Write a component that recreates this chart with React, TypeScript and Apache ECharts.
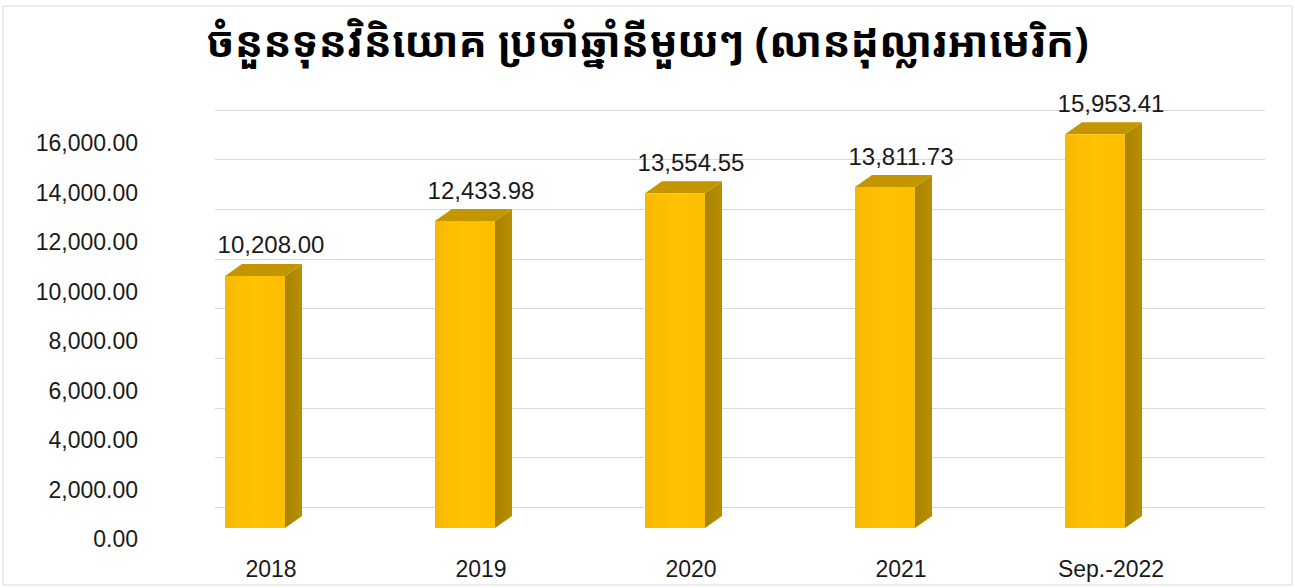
import React, { useEffect, useRef } from "react";
import * as echarts from "echarts";

const TITLE = "ចំនួនទុនវិនិយោគ ប្រចាំឆ្នាំនីមួយៗ (លានដុល្លារអាមេរិក)";
const categories = ["2018", "2019", "2020", "2021", "Sep.-2022"];
const values = [10208.0, 12433.98, 13554.55, 13811.73, 15953.41];
const yMin = 0;
const yMax = 16000;
const yStep = 2000;

const fmt = (v: number) =>
  v.toLocaleString("en-US", { minimumFractionDigits: 2, maximumFractionDigits: 2 });

const FONT = "'Liberation Sans', Arial, sans-serif";

export default function App() {
  const ref = useRef<HTMLDivElement>(null);
  useEffect(() => {
    if (!ref.current) return;
    const chart = echarts.init(ref.current, null, { renderer: "svg" });
    const W = 60;
    const DX = 17;
    const DY = -12;
    const option: any = {
      animation: false,
      backgroundColor: "#ffffff",
      title: {
        text: TITLE,
        left: "center",
        top: 14,
        textStyle: {
          fontSize: 42,
          fontWeight: "bold",
          color: "#000",
          fontFamily: "'Khmer OS Muol Light', 'Noto Sans Khmer', 'Noto Serif Khmer', sans-serif",
        },
      },
      graphic: [
        {
          type: "rect",
          shape: { x: 3, y: 6, width: 1289, height: 579 },
          style: { fill: "none", stroke: "#d9d9d9", lineWidth: 1 },
          silent: true,
          z: -1,
        },
      ],
      grid: [
        { left: 215, right: 30, top: 110, height: 397 },
        { left: 146, width: 10, top: 143, height: 396 },
        { left: 150, right: 95, top: 133, height: 395 },
      ],
      xAxis: [
        { gridIndex: 0, type: "category", data: categories, show: false },
        { gridIndex: 1, type: "category", data: categories, show: false },
        {
          gridIndex: 2,
          type: "category",
          data: categories,
          axisLine: { show: false },
          axisTick: { show: false },
          axisLabel: {
            margin: 29,
            fontSize: 23,
            color: "#1a1a1a",
            fontFamily: FONT,
            padding: [0, 0, 0, 32],
          },
        },
      ],
      yAxis: [
        {
          gridIndex: 0,
          type: "value",
          min: yMin,
          max: yMax,
          interval: yStep,
          axisLabel: { show: false },
          axisLine: { show: false },
          axisTick: { show: false },
          splitLine: { lineStyle: { color: "#d9d9d9", width: 1 } },
        },
        {
          gridIndex: 1,
          type: "value",
          min: yMin,
          max: yMax,
          interval: yStep,
          axisLine: { show: false },
          axisTick: { show: false },
          splitLine: { show: false },
          axisLabel: {
            margin: 8,
            fontSize: 23,
            color: "#1a1a1a",
            fontFamily: FONT,
            formatter: (v: number) => fmt(v),
          },
        },
        {
          gridIndex: 2,
          type: "value",
          min: yMin,
          max: yMax,
          show: false,
        },
      ],
      series: [
        {
          type: "custom",
          xAxisIndex: 2,
          yAxisIndex: 2,
          data: values.map((v, i) => [i, v]),
          renderItem: (params: any, api: any) => {
            const idx = api.value(0);
            const v = api.value(1);
            const top = api.coord([idx, v]);
            const base = api.coord([idx, 0]);
            const x0 = top[0] - W / 2;
            const x1 = top[0] + W / 2;
            const yt = top[1];
            const yb = base[1];
            return {
              type: "group",
              children: [
                {
                  type: "polygon",
                  shape: {
                    points: [
                      [x1, yt],
                      [x1 + DX, yt + DY],
                      [x1 + DX, yb + DY],
                      [x1, yb],
                    ],
                  },
                  style: {
                    fill: new echarts.graphic.LinearGradient(0, 0, 1, 0, [
                      { offset: 0, color: "#A98300" },
                      { offset: 1, color: "#B98F00" },
                    ]),
                  },
                },
                {
                  type: "polygon",
                  shape: {
                    points: [
                      [x0, yt],
                      [x0 + DX, yt + DY],
                      [x1 + DX, yt + DY],
                      [x1, yt],
                    ],
                  },
                  style: { fill: "#C39600" },
                },
                {
                  type: "rect",
                  shape: { x: x0, y: yt, width: W, height: yb - yt },
                  style: {
                    fill: new echarts.graphic.LinearGradient(0, 0, 1, 0, [
                      { offset: 0, color: "#F7B900" },
                      { offset: 0.5, color: "#FFC300" },
                      { offset: 1, color: "#FBBE00" },
                    ]),
                  },
                },
                {
                  type: "text",
                  style: {
                    text: fmt(v),
                    x: top[0] + 16,
                    y: yt - 31,
                    align: "center",
                    verticalAlign: "middle",
                    fontSize: 24,
                    fill: "#1a1a1a",
                    fontFamily: FONT,
                  },
                },
              ],
            };
          },
        },
      ],
    };
    chart.setOption(option);
    return () => chart.dispose();
  }, []);
  return (
    <div
      ref={ref}
      style={{ position: "fixed", left: 0, top: 0, width: 1295, height: 588 }}
    />
  );
}
